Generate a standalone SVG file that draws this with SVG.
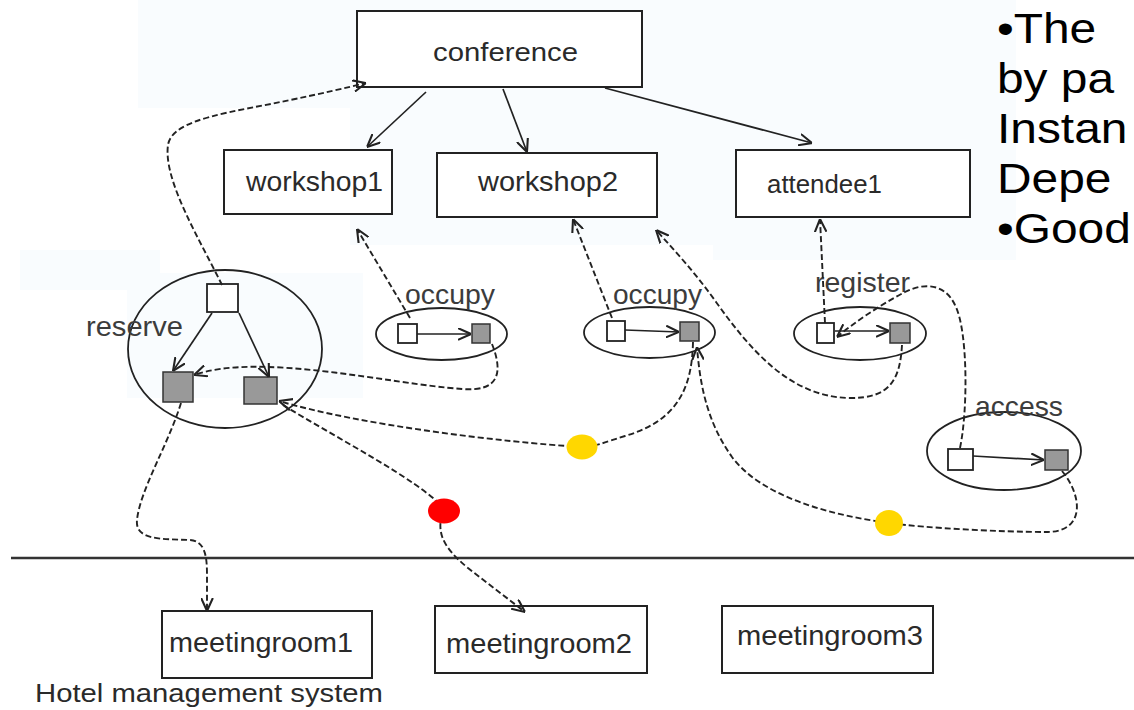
<svg xmlns="http://www.w3.org/2000/svg" width="1134" height="710" viewBox="0 0 1134 710">
<defs>
<style>
.box{fill:#fff;stroke:#222;stroke-width:2}
.lbl{font-family:"Liberation Sans",Arial,sans-serif;fill:#2a2a2a}
.tag{font-family:"Liberation Sans",Arial,sans-serif;fill:#3c3c3c;font-size:28px}
.ell{fill:none;stroke:#222;stroke-width:1.8}
.ws{fill:#fff;stroke:#222;stroke-width:1.8}
.gs{fill:#999;stroke:#333;stroke-width:1.5}
.sol{fill:none;stroke:#222;stroke-width:1.7;marker-end:url(#arr)}
.dash{fill:none;stroke:#222;stroke-width:1.9;stroke-dasharray:6 3;marker-end:url(#arr)}
.big{font-family:"Liberation Sans",Arial,sans-serif;font-size:42px;fill:#000}
.pale{fill:#f9fcfe}
</style>
<marker id="arr" viewBox="0 0 10 10" refX="10" refY="5" markerWidth="13" markerHeight="13" markerUnits="userSpaceOnUse" orient="auto">
<path d="M0,0.5 L10,5 L0,9.5" fill="none" stroke="#222" stroke-width="1.6"/>
</marker>
</defs>
<rect width="1134" height="710" fill="#fff"/>
<g id="background">
<rect class="pale" x="138" y="0" width="878" height="108"/>
<rect class="pale" x="350" y="108" width="666" height="137"/>
<rect class="pale" x="713" y="222" width="303" height="38"/>
<rect class="pale" x="20" y="250" width="140" height="40"/>
<rect class="pale" x="127" y="273" width="236" height="125"/>
</g>
<g id="hotel-line">
<line x1="11" y1="558" x2="1134" y2="558" stroke="#333" stroke-width="2.5"/>
</g>
<g id="conference"><rect class="box" x="357" y="11" width="285" height="76"/><text class="lbl" x="433" y="61" font-size="26" textLength="145" lengthAdjust="spacingAndGlyphs">conference</text></g>
<g id="workshop1"><rect class="box" x="224" y="150" width="168" height="64"/><text class="lbl" x="246" y="191" font-size="28" textLength="137" lengthAdjust="spacingAndGlyphs">workshop1</text></g>
<g id="workshop2"><rect class="box" x="437" y="153" width="220" height="64"/><text class="lbl" x="478" y="191" font-size="28" textLength="140" lengthAdjust="spacingAndGlyphs">workshop2</text></g>
<g id="attendee1"><rect class="box" x="736" y="150" width="234" height="67"/><text class="lbl" x="767" y="193" font-size="26" fill="#1c1c30" textLength="115" lengthAdjust="spacingAndGlyphs">attendee1</text></g>
<g id="reserve">
<ellipse class="ell" cx="225" cy="349" rx="97" ry="79"/>
<rect class="ws" x="207" y="284" width="31" height="28"/>
<rect class="gs" x="163" y="372" width="30" height="30"/>
<rect class="gs" x="244" y="377" width="33" height="27"/>
<text class="tag" x="86" y="336" font-size="30" textLength="97" lengthAdjust="spacingAndGlyphs">reserve</text>
</g>
<g id="occupy1">
<ellipse class="ell" cx="441.5" cy="334" rx="65.5" ry="26"/>
<rect class="ws" x="398" y="324" width="19" height="19"/>
<rect class="gs" x="472" y="324" width="18" height="19"/>
<text class="tag" x="405" y="304" textLength="90" lengthAdjust="spacingAndGlyphs">occupy</text>
</g>
<g id="occupy2">
<ellipse class="ell" cx="649.5" cy="332.5" rx="65.5" ry="25.5"/>
<rect class="ws" x="607" y="321" width="18" height="20"/>
<rect class="gs" x="680" y="322" width="19" height="19"/>
<text class="tag" x="613" y="304" textLength="89" lengthAdjust="spacingAndGlyphs">occupy</text>
</g>
<g id="register">
<ellipse class="ell" cx="860" cy="333.5" rx="66" ry="26.5"/>
<rect class="ws" x="817" y="323" width="17" height="20"/>
<rect class="gs" x="890" y="323" width="20" height="20"/>
<text class="tag" x="815" y="292" textLength="95" lengthAdjust="spacingAndGlyphs">register</text>
</g>
<g id="access">
<ellipse class="ell" cx="1004" cy="451" rx="77" ry="39"/>
<rect class="ws" x="948" y="449" width="25" height="21"/>
<rect class="gs" x="1045" y="450" width="23" height="20"/>
<text class="tag" x="975" y="416" textLength="88" lengthAdjust="spacingAndGlyphs">access</text>
</g>
<g id="meetingroom1"><rect class="box" x="162" y="611" width="210" height="67"/><text class="lbl" x="169" y="652" font-size="28" textLength="184" lengthAdjust="spacingAndGlyphs">meetingroom1</text></g>
<g id="meetingroom2"><rect class="box" x="435" y="606" width="212" height="67"/><text class="lbl" x="446" y="653" font-size="28" textLength="186" lengthAdjust="spacingAndGlyphs">meetingroom2</text></g>
<g id="meetingroom3"><rect class="box" x="722" y="606" width="211" height="67"/><text class="lbl" x="737" y="645" font-size="28" textLength="186" lengthAdjust="spacingAndGlyphs">meetingroom3</text></g>
<g id="hotel-label"><text class="lbl" x="35" y="702" font-size="26" fill="#3c3c3c" textLength="348" lengthAdjust="spacingAndGlyphs">Hotel management system</text></g>
<g id="connectors">
<path class="sol" d="M426 92 L367 147"/>
<path class="sol" d="M503 89 L527 152"/>
<path class="sol" d="M605 88 L812 143"/>
<path class="sol" d="M212 313 L173 371"/>
<path class="sol" d="M239 313 L269 377"/>
<path class="sol" d="M417 334 L471 334"/>
<path class="sol" d="M625 330 L679 332"/>
<path class="sol" d="M835 331 L889 331"/>
<path class="sol" d="M973 456 L1044 460"/>
<path class="dash" d="M222 285 C200 240 163 180 168 145 C172 118 235 112 290 100 C320 94 345 88 366 83"/>
<path class="dash" d="M410 318 L357 229"/>
<path class="dash" d="M492 344 C503 372 500 392 462 389 C390 384 260 352 194 375"/>
<path class="dash" d="M612 318 L573 219"/>
<path class="dash" d="M902 345 C900 380 890 399 848 398 C790 396 752 352 716 302 C697 275 676 252 656 230"/>
<path class="dash" d="M825 323 L820 219"/>
<path class="dash" d="M960 448 C968 410 968 330 955 305 C945 284 925 282 905 292 C880 305 855 322 837 337"/>
<path class="dash" d="M1062 471 C1082 495 1086 531 1048 532 C1000 532 925 528 889 523 C830 515 762 497 732 457 C707 422 700 385 697 347"/>
<path class="dash" d="M693 342 C692 385 680 420 625 436 C605 442 595 447 582 447 C500 442 360 425 279 401"/>
<path class="dash" d="M283 405 C340 440 415 478 444 508 C436 530 440 545 468 568 L525 612"/>
<path class="dash" d="M181 403 C168 445 140 490 137 520 C135 540 160 539 190 540 C205 541 207 556 207 575 L207 611"/>
<ellipse cx="444" cy="511" rx="16" ry="12.5" fill="#ff0000"/>
<ellipse cx="582" cy="447" rx="15.5" ry="12.5" fill="#ffd700"/>
<ellipse cx="889" cy="523" rx="14" ry="13" fill="#ffd700"/>
</g>
<g id="side-text" transform="translate(997 0) scale(1.14 1)">
<text class="big" x="0" y="43">•The</text>
<text class="big" x="0" y="93">by pa</text>
<text class="big" x="0" y="143">Instan</text>
<text class="big" x="0" y="193">Depe</text>
<text class="big" x="0" y="243">•Good</text>
</g>
</svg>
